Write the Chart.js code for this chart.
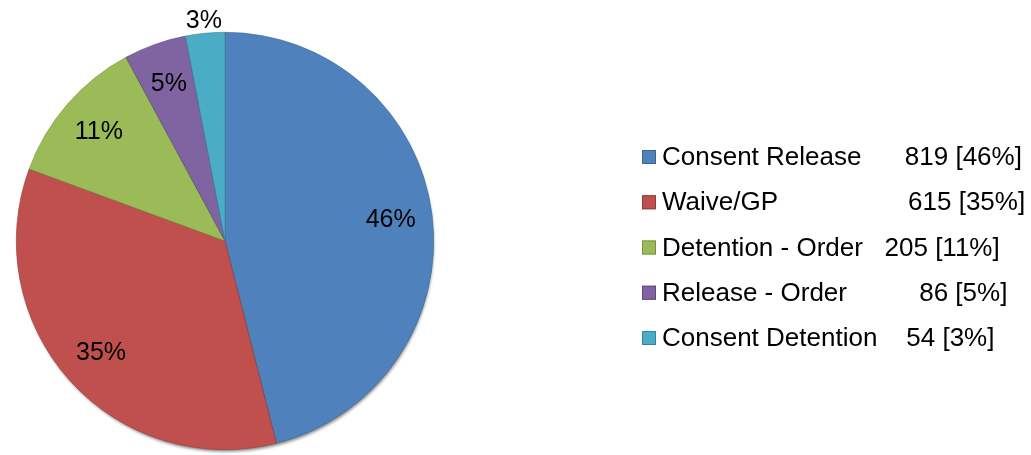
<!DOCTYPE html>
<html>
<head>
<meta charset="utf-8">
<script src="https://cdn.jsdelivr.net/npm/chart.js@4.4.0/dist/chart.umd.min.js"></script>
<style>
  html, body { margin: 0; padding: 0; background: #fff; }
  #wrap { width: 1031px; height: 455px; }
</style>
</head>
<body>
<div id="wrap"><canvas id="chartPie"></canvas></div>
<script>
'use strict';

const categories = ['Consent Release', 'Waive/GP', 'Detention - Order', 'Release - Order', 'Consent Detention'];
const counts = [819, 615, 205, 86, 54];
const percents = [46, 35, 11, 5, 3];
const colors = ['#4F81BD', '#C0504D', '#9BBB59', '#8064A2', '#4BACC6'];
const edgeColors = ['#3A6596', '#963A38', '#76923C', '#5F4A7B', '#31859C'];

// soft shadow under the whole pie, like the office chart
const pieShadow = {
    id: 'pieShadow',
    beforeDatasetsDraw(chart) {
        let arc = chart.getDatasetMeta(0).data[0];
        if (!arc) return;
        let ctx = chart.ctx;
        ctx.save();
        ctx.shadowColor = 'rgba(0,0,0,0.45)';
        ctx.shadowBlur = 3;
        ctx.shadowOffsetX = 1;
        ctx.shadowOffsetY = 3;
        ctx.fillStyle = '#666';
        ctx.beginPath();
        ctx.arc(arc.x, arc.y, arc.outerRadius - 1, 0, Math.PI * 2);
        ctx.fill();
        ctx.restore();
    }
};

// percent labels on the slices
const sliceLabels = {
    id: 'sliceLabels',
    afterDatasetsDraw(chart, args, opts) {
        let ctx = chart.ctx;
        let meta = chart.getDatasetMeta(0);
        ctx.save();
        ctx.font = opts.font;
        ctx.fillStyle = '#000';
        ctx.textAlign = 'center';
        ctx.textBaseline = 'middle';
        meta.data.forEach((arc, i) => {
            let p = arc.getProps(['x', 'y', 'startAngle', 'endAngle', 'outerRadius'], true);
            let mid = (p.startAngle + p.endAngle) / 2;
            let k = percents[i] < 4 ? opts.outside : opts.inside;
            let r = p.outerRadius * k;
            ctx.fillText(percents[i] + '%', p.x + Math.cos(mid) * r, p.y + Math.sin(mid) * r);
        });
        ctx.restore();
    }
};

// legend on the right, names padded with spaces as in the original
const sideLegend = {
    id: 'sideLegend',
    afterDraw(chart, args, opts) {
        let ctx = chart.ctx;
        ctx.save();
        ctx.font = opts.font;
        ctx.textBaseline = 'middle';
        ctx.textAlign = 'left';
        for (let i = 0; i < categories.length; i++) {
            let y = opts.top + i * opts.step;
            ctx.fillStyle = colors[i];
            ctx.fillRect(opts.left, y - 7, 14, 14);
            ctx.strokeStyle = edgeColors[i];
            ctx.lineWidth = 1;
            ctx.strokeRect(opts.left + 0.5, y - 6.5, 13, 13);
            ctx.fillStyle = '#000';
            let text = categories[i] + ' '.repeat(opts.gaps[i]) + counts[i] + ' [' + percents[i] + '%]';
            ctx.fillText(text, opts.left + 20, y + 1);
        }
        ctx.restore();
    }
};

new Chart(document.getElementById('chartPie'), {
    type: 'pie',
    data: {
        labels: categories,
        datasets: [{
            data: counts,
            backgroundColor: colors,
            borderColor: edgeColors,
            borderWidth: 0.6
        }]
    },
    options: {
        responsive: true,
        maintainAspectRatio: false,
        animation: false,
        layout: { padding: { left: 0, right: 581, top: 32, bottom: 5 } },
        plugins: {
            legend: { display: false },
            tooltip: { enabled: true },
            sliceLabels: { font: '25px "Liberation Sans", Arial, sans-serif', inside: 0.8, outside: 1.06 },
            sideLegend: {
                font: '26px "Liberation Sans", Arial, sans-serif',
                left: 642, top: 157, step: 45.25,
                gaps: [6, 18, 3, 10, 4]
            }
        }
    },
    plugins: [pieShadow, sliceLabels, sideLegend]
});
</script>
</body>
</html>
